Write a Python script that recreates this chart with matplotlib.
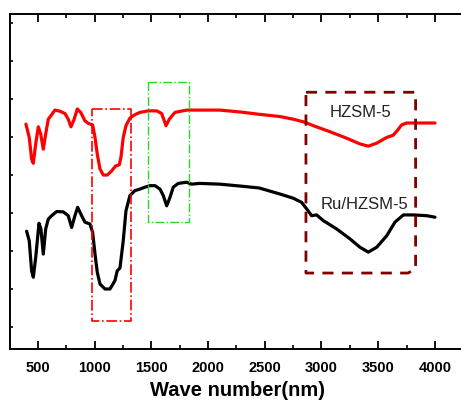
import numpy as np
import matplotlib.pyplot as plt
from matplotlib.ticker import MultipleLocator, NullFormatter

# wave number positions and offset intensities
wn_hz = [394, 423, 444, 459, 480, 503, 524, 547, 568, 591, 621, 650, 694,
         738, 767, 791, 817, 847, 877, 914, 944, 982, 1003, 1023, 1047,
         1076, 1111, 1150, 1185, 1217, 1232, 1252, 1276, 1311, 1355, 1399,
         1473, 1547, 1591, 1629, 1658, 1708, 1811, 1958, 2105, 2283, 2450,
         2634, 2751, 2854, 2928, 3075, 3222, 3339, 3413, 3487, 3575, 3633,
         3668, 3707, 3751, 3868, 4001]
t_hz = [5.34, 4.99, 4.42, 4.31, 4.82, 5.27, 5.08, 4.68, 5.08, 5.47, 5.59,
        5.71, 5.68, 5.62, 5.47, 5.27, 5.45, 5.74, 5.65, 5.43, 5.36, 5.32,
        4.99, 4.55, 4.16, 4.0, 4.0, 4.11, 4.24, 4.27, 4.47, 4.99, 5.30,
        5.50, 5.59, 5.65, 5.69, 5.69, 5.62, 5.30, 5.47, 5.65, 5.71, 5.71,
        5.71, 5.66, 5.60, 5.54, 5.47, 5.39, 5.30, 5.14, 4.97, 4.82, 4.76,
        4.84, 4.99, 5.05, 5.17, 5.32, 5.37, 5.37, 5.37]

wn_ru = [400, 423, 444, 459, 480, 509, 526, 547, 568, 591, 621, 665, 723,
         767, 797, 826, 850, 885, 914, 959, 982, 1003, 1023, 1047, 1091,
         1135, 1179, 1199, 1223, 1252, 1276, 1311, 1355, 1399, 1443, 1488,
         1532, 1576, 1605, 1635, 1664, 1693, 1737, 1811, 1855, 1928, 2105,
         2283, 2450, 2634, 2751, 2825, 2869, 2913, 2957, 3016, 3134, 3251,
         3339, 3413, 3487, 3575, 3648, 3722, 3810, 3927, 4001]
t_ru = [2.52, 2.27, 1.48, 1.31, 1.83, 2.73, 2.58, 1.92, 2.58, 2.84, 2.93,
        3.04, 3.03, 2.93, 2.62, 2.93, 3.15, 2.93, 2.76, 2.71, 2.49, 1.92,
        1.44, 1.13, 1.0, 1.0, 1.22, 1.48, 1.55, 2.27, 3.06, 3.46, 3.59,
        3.63, 3.68, 3.72, 3.72, 3.63, 3.46, 3.19, 3.41, 3.68, 3.78, 3.81,
        3.76, 3.78, 3.76, 3.71, 3.66, 3.50, 3.39, 3.28, 3.11, 2.93, 2.95,
        2.80, 2.58, 2.32, 2.10, 1.97, 2.10, 2.40, 2.76, 2.95, 2.95, 2.93,
        2.89]

labels = ['HZSM-5', 'Ru/HZSM-5']

# highlight boxes: (x0, x1, y0, y1)
box_si = (979, 1320, 0.17, 5.74)
box_oh = (1473, 1834, 2.77, 6.44)
box_w = (2863, 3830, 1.42, 6.18)

plt.rcParams['font.family'] = ['Liberation Sans', 'DejaVu Sans']

fig = plt.figure(figsize=(4.61, 4.02), dpi=100)
ax = fig.add_axes([9.5 / 461, 52 / 402, 456 / 461, 335 / 402])

ax.plot(wn_hz, t_hz, color='#ff0000', lw=2.3, solid_joinstyle='round',
        solid_capstyle='round')
ax.plot(wn_ru, t_ru, color='black', lw=2.3, solid_joinstyle='round',
        solid_capstyle='round')

x0, x1, y0, y1 = box_si
ax.plot([x0, x1, x1, x0, x0], [y1, y1, y0, y0, y1], color='#ff0000',
        lw=1.2, ls='-.')
x0, x1, y0, y1 = box_oh
ax.plot([x0, x1, x1, x0, x0], [y1, y1, y0, y0, y1], color='#22dd22',
        lw=1.0, ls='-.')
x0, x1, y0, y1 = box_w
ax.plot([x0, x1, x1, x1 - 67, x0, x0], [y1, y1, y0 + 0.11, y0, y0, y1],
        color='#800000', lw=2.0, ls=(0, (4, 3)))

ax.text(3340, 5.68, labels[0], fontsize=12, ha='center', va='center',
        color='#222222')
ax.text(3380, 3.24, labels[1], fontsize=12, ha='center', va='center',
        color='#222222')

ax.set_xlim(249, 4270)
ax.set_ylim(-0.58, 8.24)
ax.xaxis.set_major_locator(MultipleLocator(500))
ax.xaxis.set_minor_locator(MultipleLocator(250))
ax.yaxis.set_major_locator(MultipleLocator(1))
ax.yaxis.set_major_formatter(NullFormatter())
ax.tick_params(axis='x', which='major', direction='in', length=6, width=1.3,
               labelsize=10.5, pad=8)
ax.tick_params(axis='x', which='minor', direction='in', length=3, width=1.2)
ax.tick_params(axis='x', which='both', top=True, labeltop=False)
ax.tick_params(axis='y', which='major', direction='in', length=2, width=1.2)
for t in ax.get_xticklabels():
    t.set_fontweight('bold')
ax.spines['right'].set_visible(False)
for s in ['left', 'bottom', 'top']:
    ax.spines[s].set_linewidth(1.4)

ax.set_xlabel('Wave number(nm)', fontsize=14.5, fontweight='bold', labelpad=4)

fig.savefig('out.png', dpi=100)
